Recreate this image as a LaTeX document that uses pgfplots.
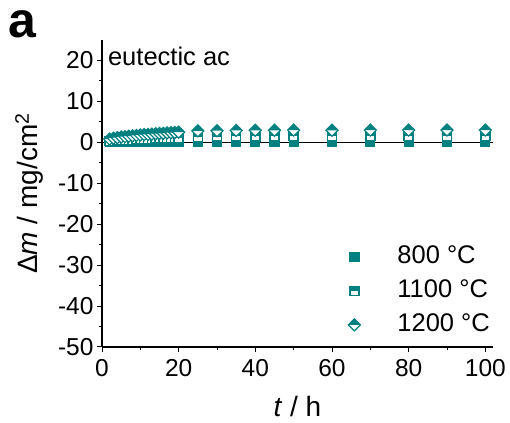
\documentclass[border=0pt]{standalone}
\usepackage{pgfplots}
\usepackage{pgfplotstable}
\pgfplotsset{compat=1.18}
\usepackage{fontspec}
\setmainfont{Liberation Sans}

\definecolor{oteal}{RGB}{0,128,128}

% square, upper half filled, lower half white
\pgfdeclareplotmark{sqhalf}{%
  \pgfsetfillcolor{white}%
  \pgfpathrectangle{\pgfqpoint{-\pgfplotmarksize}{-\pgfplotmarksize}}{\pgfqpoint{2\pgfplotmarksize}{2\pgfplotmarksize}}%
  \pgfusepathqfill
  \pgfsetfillcolor{oteal}%
  \pgfpathrectangle{\pgfqpoint{-\pgfplotmarksize}{0pt}}{\pgfqpoint{2\pgfplotmarksize}{\pgfplotmarksize}}%
  \pgfusepathqfill
  \pgfpathrectangle{\pgfqpoint{-\pgfplotmarksize}{-\pgfplotmarksize}}{\pgfqpoint{2\pgfplotmarksize}{2\pgfplotmarksize}}%
  \pgfusepathqstroke
}
% diamond, upper half filled, lower half white
\pgfdeclareplotmark{dmhalf}{%
  \pgfsetfillcolor{white}%
  \pgfpathmoveto{\pgfqpoint{0pt}{\pgfplotmarksize}}%
  \pgfpathlineto{\pgfqpoint{\pgfplotmarksize}{0pt}}%
  \pgfpathlineto{\pgfqpoint{0pt}{-\pgfplotmarksize}}%
  \pgfpathlineto{\pgfqpoint{-\pgfplotmarksize}{0pt}}%
  \pgfpathclose
  \pgfusepathqfill
  \pgfsetfillcolor{oteal}%
  \pgfpathmoveto{\pgfqpoint{0pt}{\pgfplotmarksize}}%
  \pgfpathlineto{\pgfqpoint{\pgfplotmarksize}{0pt}}%
  \pgfpathlineto{\pgfqpoint{-\pgfplotmarksize}{0pt}}%
  \pgfpathclose
  \pgfusepathqfill
  \pgfpathmoveto{\pgfqpoint{0pt}{\pgfplotmarksize}}%
  \pgfpathlineto{\pgfqpoint{\pgfplotmarksize}{0pt}}%
  \pgfpathlineto{\pgfqpoint{0pt}{-\pgfplotmarksize}}%
  \pgfpathlineto{\pgfqpoint{-\pgfplotmarksize}{0pt}}%
  \pgfpathclose
  \pgfusepathqstroke
}

% mass change (mg/cm^2) vs. time (h)
\pgfplotstableread{
t    m800  m1100  m1200
2    0.00  0.30   0.80
3    0.00  0.35   1.00
4    0.05  0.40   1.15
5    0.05  0.45   1.30
6    0.05  0.50   1.40
7    0.10  0.55   1.50
8    0.10  0.60   1.60
9    0.10  0.65   1.70
10   0.10  0.70   1.80
11   0.10  0.75   1.90
12   0.10  0.80   1.95
13   0.10  0.85   2.00
14   0.10  0.90   2.10
15   0.10  0.90   2.15
16   0.10  0.95   2.20
17   0.10  1.00   2.30
18   0.10  1.00   2.35
19   0.10  1.05   2.40
20   0.10  1.10   2.50
25   0.00  1.30   2.80
30   0.00  1.40   2.85
35   0.00  1.45   2.90
40   0.00  1.45   2.95
45   0.00  1.50   2.95
50   0.00  1.50   3.00
60   0.00  1.50   2.95
70   0.00  1.50   3.00
80   0.00  1.50   3.00
90   0.00  1.50   3.00
100  0.00  1.50   3.00
}\massdata

\begin{document}
\begin{tikzpicture}
\path[use as bounding box] (0,0) rectangle (510bp,423bp);
\begin{axis}[
  at={(102bp,76bp)}, anchor=south west,
  scale only axis, width=391bp, height=307bp,
  xmin=0, xmax=102, ymin=-50, ymax=25,
  axis lines*=left,
  axis line style={line width=1.2bp, black},
  xtick={0,20,...,100}, minor xtick={10,30,...,90},
  ytick={-50,-40,...,20}, minor ytick={-45,-35,...,15},
  yticklabels={-50,-40,-30,-20,-10,0,10,20},
  tick align=outside,
  major tick length=5bp, minor tick length=3bp,
  every tick/.style={line width=1bp, black},
  ticklabel style={font=\fontsize{24.5bp}{28bp}\selectfont},
  xticklabel style={yshift=-4bp},
  /pgf/number format/assume math mode=true,
  xlabel={\textit{t} / h},
  ylabel={Δ\textit{m} / mg/cm\textsuperscript{2}},
  label style={font=\fontsize{28bp}{32bp}\selectfont},
  xlabel style={at={(axis description cs:0.5,-0.225)}, anchor=base},
  ylabel style={at={(axis description cs:-0.164,0.5)}, anchor=base, rotate=0},
  legend style={draw=none, fill=none, inner sep=0pt,
    at={(0.995,0.335)}, anchor=north east,
    font=\fontsize{25.5bp}{30bp}\selectfont,
    nodes={inner sep=1bp, text height=18bp, text depth=5bp},
    row sep=9bp,
    /tikz/every odd column/.append style={column sep=36bp}},
  legend cell align=left,
]
\addplot[black, line width=1bp, forget plot] coordinates {(0,0) (102,0)};
\addplot[only marks, color=oteal, mark=square*, mark size=4.5bp,
  mark options={line width=1.2bp}] table[x=t, y=m800] {\massdata};
\addlegendentry{800 °C}
\addplot[only marks, color=oteal, mark=sqhalf, mark size=4.5bp,
  mark options={line width=1.4bp}] table[x=t, y=m1100] {\massdata};
\addlegendentry{1100 °C}
\addplot[only marks, color=oteal, mark=dmhalf, mark size=6bp,
  mark options={line width=1.2bp}] table[x=t, y=m1200] {\massdata};
\addlegendentry{1200 °C}
\node[anchor=base west, font=\fontsize{25.5bp}{30bp}\selectfont, inner sep=0pt]
  at (rel axis cs:0.015,0.918) {eutectic ac};
\end{axis}
\node[anchor=base west, inner sep=0pt, font=\bfseries\fontsize{50bp}{50bp}\selectfont]
  at (8bp,385bp) {a};
\end{tikzpicture}
\end{document}
